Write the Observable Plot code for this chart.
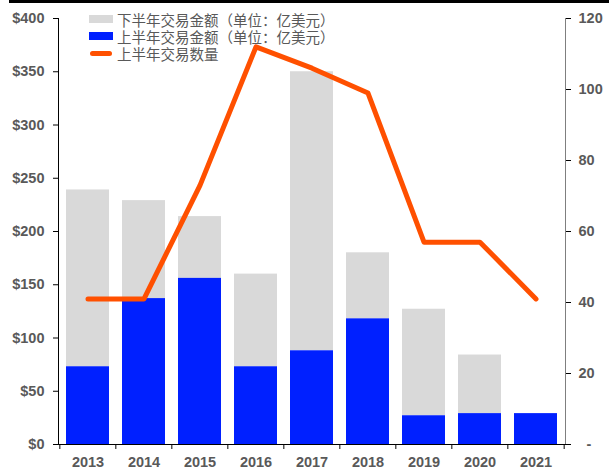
<!DOCTYPE html>
<html>
<head>
<meta charset="utf-8">
<script src="https://cdn.jsdelivr.net/npm/d3@7"></script>
<script src="https://cdn.jsdelivr.net/npm/@observablehq/plot@0.6"></script>
<style>
  html, body { margin: 0; padding: 0; background: #fff; }
  #wrap { position: relative; width: 609px; height: 469px; overflow: hidden; }
  #topbar { position: absolute; left: 9px; top: 0; width: 600px; height: 3px; background: #000; }
  #legend { position: absolute; left: 89px; top: 10.5px; font-family: "Noto Sans CJK SC", sans-serif; font-size: 14.5px; color: #595959; line-height: 17px; }
  .row { display: flex; align-items: center; height: 17px; }
  .row span { display: inline-block; height: 17px; line-height: 17px; overflow: visible; white-space: nowrap; }
  .sw { width: 24px; height: 8px; margin-right: 4px; }
  .ln { width: 22px; height: 5px; border-radius: 3px; margin: 0 5px 0 1px; background: #FF5000; }
  svg { font-family: "Liberation Sans", Arial, sans-serif; }
</style>
</head>
<body>
<div id="wrap">
  <div id="chart"></div>
  <div id="topbar"></div>
  <div id="legend">
    <div class="row"><div class="sw" style="background:#D9D9D9"></div><span>下半年交易金额（单位：亿美元）</span></div>
    <div class="row"><div class="sw" style="background:#0020FF"></div><span>上半年交易金额（单位：亿美元）</span></div>
    <div class="row"><div class="ln"></div><span>上半年交易数量</span></div>
  </div>
</div>
<script>
const years = ["2013", "2014", "2015", "2016", "2017", "2018", "2019", "2020", "2021"];
const firstHalfAmount = [73, 137, 156, 73, 88, 118, 27, 29, 29];
const secondHalfAmount = [166, 92, 58, 87, 262, 62, 100, 55, 0];
const firstHalfDeals = [41, 41, 73, 112, 106, 99, 57, 57, 41];
const leftTicks = [0, 50, 100, 150, 200, 250, 300, 350, 400];
const rightTicks = [0, 20, 40, 60, 80, 100, 120];

const yMax = 400, rMax = 120;
const toLeft = v => v * yMax / rMax;

const data = years.map((year, i) => ({
  year,
  first: firstHalfAmount[i],
  second: secondHalfAmount[i],
  deals: firstHalfDeals[i]
}));

const W = 609, H = 469, mL = 58, mR = 44, mT = 18, mB = 25;
const step = (W - mL - mR) / years.length;
const tickLen = 5 * yMax / (H - mT - mB);

const grey = "#595959";
const chart = Plot.plot({
  width: W,
  height: H,
  marginLeft: mL,
  marginRight: mR,
  marginTop: mT,
  marginBottom: mB,
  style: { fontFamily: "'Liberation Sans', Arial, sans-serif", fontSize: "14.5px", background: "#fff", overflow: "visible" },
  x: { type: "band", domain: years, paddingInner: 0.224, paddingOuter: 0.112, label: null },
  y: { domain: [0, yMax], label: null },
  marks: [
    Plot.barY(data, { x: "year", y1: "first", y2: d => d.first + d.second, fill: "#D9D9D9" }),
    Plot.barY(data, { x: "year", y1: 0, y2: "first", fill: "#0020FF" }),
    Plot.line(data, { x: "year", y: d => toLeft(d.deals), stroke: "#FF5000", strokeWidth: 5, strokeLinecap: "round", strokeLinejoin: "round" }),
    Plot.axisY({ anchor: "left", ticks: leftTicks, tickFormat: d => "$" + d, tickSize: 5, tickPadding: 9, fontWeight: "bold", color: grey, stroke: "#000", label: null }),
    Plot.axisY({ anchor: "right", ticks: rightTicks.map(toLeft), tickFormat: d => { const v = Math.round(d * rMax / yMax); return v === 0 ? "\u00a0\u00a0-" : String(v); }, tickSize: 5, tickPadding: 8, fontWeight: "bold", color: grey, stroke: "#000", label: null }),
    Plot.axisX({ tickSize: 0, tickPadding: 12, fontWeight: "bold", color: grey, label: null }),
    Plot.ruleX(years, { x: d => d, dx: -step / 2, y1: 0, y2: -tickLen, stroke: "#000" }),
    Plot.ruleX(years.slice(-1), { x: d => d, dx: step / 2, y1: 0, y2: -tickLen, stroke: "#000" }),
    Plot.frame({ anchor: "left", stroke: "#000" }),
    Plot.frame({ anchor: "right", stroke: "#7f7f7f" }),
    Plot.ruleY([0], { stroke: "#000", insetRight: -3 })
  ]
});
document.getElementById("chart").appendChild(chart);
</script>
</body>
</html>
